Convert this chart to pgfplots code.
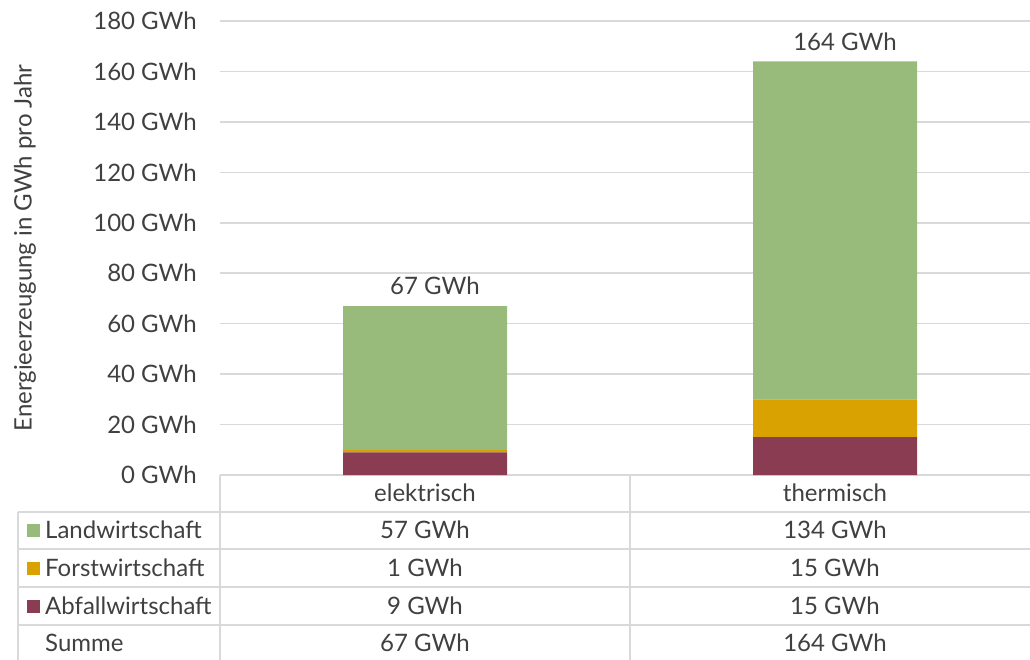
\documentclass[border=0pt]{standalone}
\usepackage{fontspec}
\setmainfont{Lato}
\usepackage{pgfplots}
\pgfplotsset{compat=1.18}
\definecolor{txt}{HTML}{404040}
\definecolor{gridc}{HTML}{D9D9D9}
\definecolor{land}{HTML}{98BB7C}
\definecolor{forst}{HTML}{D9A200}
\definecolor{abfall}{HTML}{8A3C52}
\begin{document}
\fontsize{24}{28}\selectfont
\begin{tikzpicture}[x=1pt,y=1pt]
\useasboundingbox (-220,-184) rectangle (810,475);
\clip (-220,-184) rectangle (810,475);
\begin{axis}[at={(0,0)}, anchor=south west, scale only axis, width=810pt, height=454pt,
  xmin=-0.5, xmax=1.47561, ymin=0, ymax=180, ytick={0,20,...,180}, xtick=\empty,
  ymajorgrids, grid style={gridc, line width=1.5pt},
  axis line style={draw=none}, major tick length=0pt,
  yticklabel={\pgfmathprintnumber{\tick}~GWh},
  /pgf/number format/assume math mode=true,
  yticklabel style={text=txt, font=\fontsize{24}{28}\selectfont, inner sep=0pt, xshift=-23pt},
  ybar stacked, bar width=164pt,
  clip=false]
\addplot[fill=abfall, draw=none] coordinates {(0,9) (1,15)};
\addplot[fill=forst, draw=none] coordinates {(0,1) (1,15)};
\addplot[fill=land, draw=none] coordinates {(0,57) (1,134)};
\end{axis}
\begin{axis}[at={(0,0)}, anchor=south west, scale only axis, width=810pt, height=454pt,
  xmin=-0.5, xmax=1.47561, ymin=0, ymax=180, hide axis, clip=false,
  /pgf/number format/assume math mode=true]
\addplot[only marks, mark=none, point meta=explicit,
  nodes near coords={\pgfmathprintnumber{\pgfplotspointmeta}~GWh},
  nodes near coords style={text=txt, font=\fontsize{24}{28}\selectfont, anchor=center, yshift=20pt, xshift=10pt}]
  coordinates {(0,67) [67] (1,164) [164]};
\end{axis}
\node[rotate=90, text=txt, inner sep=0pt, font=\fontsize{24}{28}\selectfont] at (-195,227) {Energieerzeugung in GWh pro Jahr};
% table lines
\begin{scope}[gridc, line width=1.5pt]
\draw (0,0) -- (0,-200);
\draw (410,0) -- (410,-200);
\draw (-202,-37) -- (-202,-200);
\foreach \yy in {-37,-74,-112,-150,-187} {\draw (-202,\yy) -- (810,\yy);}
\end{scope}
% legend keys
\fill[land] (-193,-61.5) rectangle (-180,-48.5);
\fill[forst] (-193,-99.5) rectangle (-180,-86.5);
\fill[abfall] (-193,-137.5) rectangle (-180,-124.5);
\begin{scope}[every node/.style={text=txt, inner sep=0pt}]
\node at (205,-18) {elektrisch};
\node at (615,-18) {thermisch};
\node[anchor=west] at (-175,-55) {Landwirtschaft};
\node[anchor=west] at (-175,-93) {Forstwirtschaft};
\node[anchor=west] at (-175,-131) {Abfallwirtschaft};
\node[anchor=west] at (-175,-168) {Summe};
\node at (205,-55) {57 GWh};
\node at (615,-55) {134 GWh};
\node at (205,-93) {1 GWh};
\node at (615,-93) {15 GWh};
\node at (205,-131) {9 GWh};
\node at (615,-131) {15 GWh};
\node at (205,-168) {67 GWh};
\node at (615,-168) {164 GWh};
\end{scope}
\end{tikzpicture}
\end{document}
